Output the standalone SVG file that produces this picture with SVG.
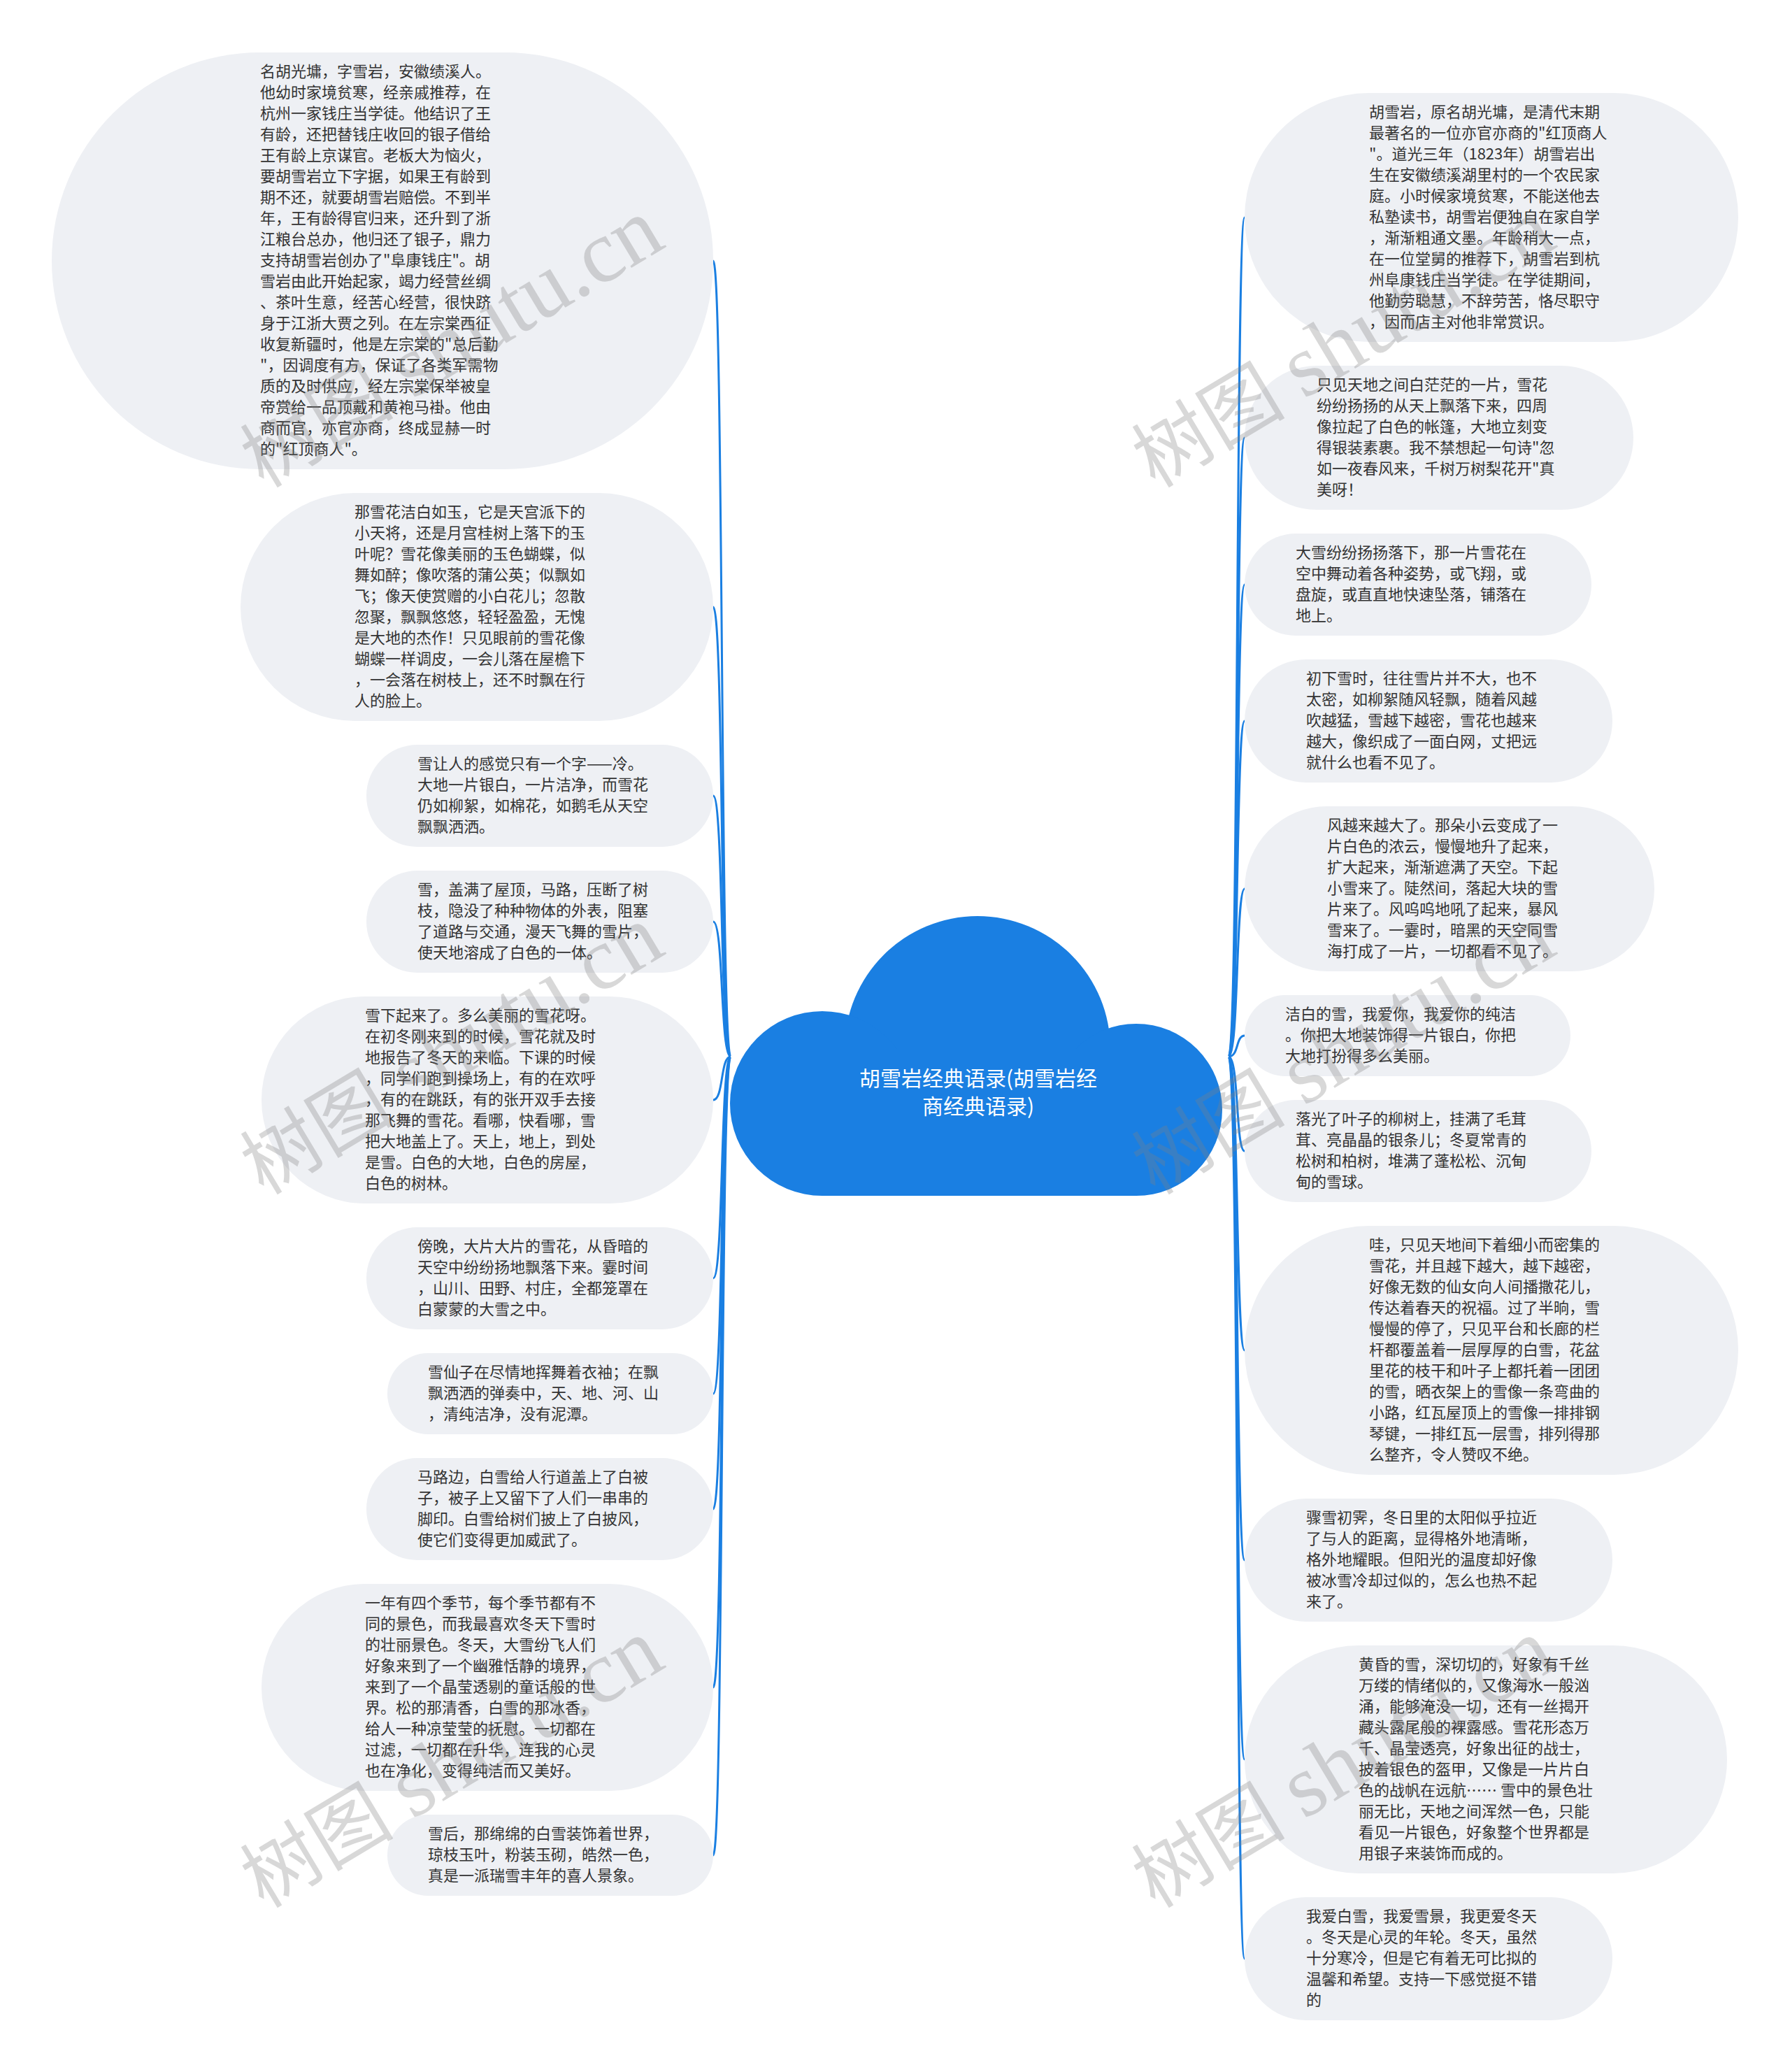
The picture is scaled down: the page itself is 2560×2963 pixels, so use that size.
<svg xmlns="http://www.w3.org/2000/svg" width="2560" height="2963" viewBox="0 0 2560 2963">
<style>
.node rect{fill:#eef0f4;}
.t{font-family:"Noto Sans CJK SC","Noto Sans",sans-serif;font-size:22px;fill:#333333;}
.c{font-family:"Noto Sans CJK SC","Noto Sans",sans-serif;font-size:30px;fill:#ffffff;text-anchor:middle;}
.edges path{fill:none;stroke:#1a7fe2;stroke-width:3;}
.wm{font-family:"Liberation Serif","Noto Sans CJK SC",serif;font-size:110px;fill:#808080;opacity:0.3;}
.wm tspan{font-size:127px;}
</style>
<rect x="0" y="0" width="2560" height="2963" fill="#ffffff"/>
<g class="edges">
<path d="M1045,1511 C1030,1511 1035,373 1020,373"/>
<path d="M1045,1511 C1030,1511 1035,868 1020,868"/>
<path d="M1045,1511 C1030,1511 1035,1138 1020,1138"/>
<path d="M1045,1511 C1030,1511 1035,1318 1020,1318"/>
<path d="M1045,1511 C1030,1511 1035,1573 1020,1573"/>
<path d="M1045,1511 C1030,1511 1035,1828 1020,1828"/>
<path d="M1045,1511 C1030,1511 1035,1993 1020,1993"/>
<path d="M1045,1511 C1030,1511 1035,2158 1020,2158"/>
<path d="M1045,1511 C1030,1511 1035,2413 1020,2413"/>
<path d="M1045,1511 C1030,1511 1035,2653 1020,2653"/>
<path d="M1757,1511 C1772,1511 1767,311 1780,311"/>
<path d="M1757,1511 C1772,1511 1767,626 1780,626"/>
<path d="M1757,1511 C1772,1511 1767,836 1780,836"/>
<path d="M1757,1511 C1772,1511 1767,1031 1780,1031"/>
<path d="M1757,1511 C1772,1511 1767,1271 1780,1271"/>
<path d="M1757,1511 C1772,1511 1767,1481 1780,1481"/>
<path d="M1757,1511 C1772,1511 1767,1646 1780,1646"/>
<path d="M1757,1511 C1772,1511 1767,1931 1780,1931"/>
<path d="M1757,1511 C1772,1511 1767,2231 1780,2231"/>
<path d="M1757,1511 C1772,1511 1767,2516 1780,2516"/>
<path d="M1757,1511 C1772,1511 1767,2801 1780,2801"/>
</g>
<g id="center">
<circle cx="1398" cy="1500" r="190" fill="#1a7fe2"/>
<circle cx="1176" cy="1578" r="132" fill="#1a7fe2"/>
<circle cx="1625" cy="1587" r="123" fill="#1a7fe2"/>
<rect x="1176" y="1500" width="449" height="210" fill="#1a7fe2"/>
<text class="c" x="1399" y="1553">胡雪岩经典语录(胡雪岩经</text>
<text class="c" x="1399" y="1593">商经典语录)</text>
</g>
<g id="L1" class="node">
<rect x="74" y="75" width="946" height="596" rx="298"/>
<text class="t" x="372" y="110">名胡光墉，字雪岩，安徽绩溪人。</text>
<text class="t" x="372" y="140">他幼时家境贫寒，经亲戚推荐，在</text>
<text class="t" x="372" y="170">杭州一家钱庄当学徒。他结识了王</text>
<text class="t" x="372" y="200">有龄，还把替钱庄收回的银子借给</text>
<text class="t" x="372" y="230">王有龄上京谋官。老板大为恼火，</text>
<text class="t" x="372" y="260">要胡雪岩立下字据，如果王有龄到</text>
<text class="t" x="372" y="290">期不还，就要胡雪岩赔偿。不到半</text>
<text class="t" x="372" y="320">年，王有龄得官归来，还升到了浙</text>
<text class="t" x="372" y="350">江粮台总办，他归还了银子，鼎力</text>
<text class="t" x="372" y="380">支持胡雪岩创办了"阜康钱庄"。胡</text>
<text class="t" x="372" y="410">雪岩由此开始起家，竭力经营丝绸</text>
<text class="t" x="372" y="440">、茶叶生意，经苦心经营，很快跻</text>
<text class="t" x="372" y="470">身于江浙大贾之列。在左宗棠西征</text>
<text class="t" x="372" y="500">收复新疆时，他是左宗棠的"总后勤</text>
<text class="t" x="372" y="530">"，因调度有方，保证了各类军需物</text>
<text class="t" x="372" y="560">质的及时供应，经左宗棠保举被皇</text>
<text class="t" x="372" y="590">帝赏给一品顶戴和黄袍马褂。他由</text>
<text class="t" x="372" y="620">商而官，亦官亦商，终成显赫一时</text>
<text class="t" x="372" y="650">的"红顶商人"。</text>
</g>
<g id="L2" class="node">
<rect x="344" y="705" width="676" height="326" rx="163"/>
<text class="t" x="507" y="740">那雪花洁白如玉，它是天宫派下的</text>
<text class="t" x="507" y="770">小天将，还是月宫桂树上落下的玉</text>
<text class="t" x="507" y="800">叶呢？雪花像美丽的玉色蝴蝶，似</text>
<text class="t" x="507" y="830">舞如醉；像吹落的蒲公英；似飘如</text>
<text class="t" x="507" y="860">飞；像天使赏赠的小白花儿；忽散</text>
<text class="t" x="507" y="890">忽聚，飘飘悠悠，轻轻盈盈，无愧</text>
<text class="t" x="507" y="920">是大地的杰作！只见眼前的雪花像</text>
<text class="t" x="507" y="950">蝴蝶一样调皮，一会儿落在屋檐下</text>
<text class="t" x="507" y="980">，一会落在树枝上，还不时飘在行</text>
<text class="t" x="507" y="1010">人的脸上。</text>
</g>
<g id="L3" class="node">
<rect x="524" y="1065" width="496" height="146" rx="73"/>
<text class="t" x="597" y="1100">雪让人的感觉只有一个字——冷。</text>
<text class="t" x="597" y="1130">大地一片银白，一片洁净，而雪花</text>
<text class="t" x="597" y="1160">仍如柳絮，如棉花，如鹅毛从天空</text>
<text class="t" x="597" y="1190">飘飘洒洒。</text>
</g>
<g id="L4" class="node">
<rect x="524" y="1245" width="496" height="146" rx="73"/>
<text class="t" x="597" y="1280">雪，盖满了屋顶，马路，压断了树</text>
<text class="t" x="597" y="1310">枝，隐没了种种物体的外表，阻塞</text>
<text class="t" x="597" y="1340">了道路与交通，漫天飞舞的雪片，</text>
<text class="t" x="597" y="1370">使天地溶成了白色的一体。</text>
</g>
<g id="L5" class="node">
<rect x="374" y="1425" width="646" height="296" rx="148"/>
<text class="t" x="522" y="1460">雪下起来了。多么美丽的雪花呀。</text>
<text class="t" x="522" y="1490">在初冬刚来到的时候，雪花就及时</text>
<text class="t" x="522" y="1520">地报告了冬天的来临。下课的时候</text>
<text class="t" x="522" y="1550">，同学们跑到操场上，有的在欢呼</text>
<text class="t" x="522" y="1580">，有的在跳跃，有的张开双手去接</text>
<text class="t" x="522" y="1610">那飞舞的雪花。看哪，快看哪，雪</text>
<text class="t" x="522" y="1640">把大地盖上了。天上，地上，到处</text>
<text class="t" x="522" y="1670">是雪。白色的大地，白色的房屋，</text>
<text class="t" x="522" y="1700">白色的树林。</text>
</g>
<g id="L6" class="node">
<rect x="524" y="1755" width="496" height="146" rx="73"/>
<text class="t" x="597" y="1790">傍晚，大片大片的雪花，从昏暗的</text>
<text class="t" x="597" y="1820">天空中纷纷扬地飘落下来。霎时间</text>
<text class="t" x="597" y="1850">，山川、田野、村庄，全都笼罩在</text>
<text class="t" x="597" y="1880">白蒙蒙的大雪之中。</text>
</g>
<g id="L7" class="node">
<rect x="554" y="1935" width="466" height="116" rx="58"/>
<text class="t" x="612" y="1970">雪仙子在尽情地挥舞着衣袖；在飘</text>
<text class="t" x="612" y="2000">飘洒洒的弹奏中，天、地、河、山</text>
<text class="t" x="612" y="2030">，清纯洁净，没有泥潭。</text>
</g>
<g id="L8" class="node">
<rect x="524" y="2085" width="496" height="146" rx="73"/>
<text class="t" x="597" y="2120">马路边，白雪给人行道盖上了白被</text>
<text class="t" x="597" y="2150">子，被子上又留下了人们一串串的</text>
<text class="t" x="597" y="2180">脚印。白雪给树们披上了白披风，</text>
<text class="t" x="597" y="2210">使它们变得更加威武了。</text>
</g>
<g id="L9" class="node">
<rect x="374" y="2265" width="646" height="296" rx="148"/>
<text class="t" x="522" y="2300">一年有四个季节，每个季节都有不</text>
<text class="t" x="522" y="2330">同的景色，而我最喜欢冬天下雪时</text>
<text class="t" x="522" y="2360">的壮丽景色。冬天，大雪纷飞人们</text>
<text class="t" x="522" y="2390">好象来到了一个幽雅恬静的境界，</text>
<text class="t" x="522" y="2420">来到了一个晶莹透剔的童话般的世</text>
<text class="t" x="522" y="2450">界。松的那清香，白雪的那冰香，</text>
<text class="t" x="522" y="2480">给人一种凉莹莹的抚慰。一切都在</text>
<text class="t" x="522" y="2510">过滤，一切都在升华，连我的心灵</text>
<text class="t" x="522" y="2540">也在净化，变得纯洁而又美好。</text>
</g>
<g id="L10" class="node">
<rect x="554" y="2595" width="466" height="116" rx="58"/>
<text class="t" x="612" y="2630">雪后，那绵绵的白雪装饰着世界，</text>
<text class="t" x="612" y="2660">琼枝玉叶，粉装玉砌，皓然一色，</text>
<text class="t" x="612" y="2690">真是一派瑞雪丰年的喜人景象。</text>
</g>
<g id="R1" class="node">
<rect x="1780" y="133" width="706" height="356" rx="178"/>
<text class="t" x="1958" y="168">胡雪岩，原名胡光墉，是清代末期</text>
<text class="t" x="1958" y="198">最著名的一位亦官亦商的"红顶商人</text>
<text class="t" x="1958" y="228">"。道光三年（1823年）胡雪岩出</text>
<text class="t" x="1958" y="258">生在安徽绩溪湖里村的一个农民家</text>
<text class="t" x="1958" y="288">庭。小时候家境贫寒，不能送他去</text>
<text class="t" x="1958" y="318">私塾读书，胡雪岩便独自在家自学</text>
<text class="t" x="1958" y="348">，渐渐粗通文墨。年龄稍大一点，</text>
<text class="t" x="1958" y="378">在一位堂舅的推荐下，胡雪岩到杭</text>
<text class="t" x="1958" y="408">州阜康钱庄当学徒。在学徒期间，</text>
<text class="t" x="1958" y="438">他勤劳聪慧，不辞劳苦，恪尽职守</text>
<text class="t" x="1958" y="468">，因而店主对他非常赏识。</text>
</g>
<g id="R2" class="node">
<rect x="1780" y="523" width="556" height="206" rx="103"/>
<text class="t" x="1883" y="558">只见天地之间白茫茫的一片，雪花</text>
<text class="t" x="1883" y="588">纷纷扬扬的从天上飘落下来，四周</text>
<text class="t" x="1883" y="618">像拉起了白色的帐篷，大地立刻变</text>
<text class="t" x="1883" y="648">得银装素裹。我不禁想起一句诗"忽</text>
<text class="t" x="1883" y="678">如一夜春风来，千树万树梨花开"真</text>
<text class="t" x="1883" y="708">美呀！</text>
</g>
<g id="R3" class="node">
<rect x="1780" y="763" width="496" height="146" rx="73"/>
<text class="t" x="1853" y="798">大雪纷纷扬扬落下，那一片雪花在</text>
<text class="t" x="1853" y="828">空中舞动着各种姿势，或飞翔，或</text>
<text class="t" x="1853" y="858">盘旋，或直直地快速坠落，铺落在</text>
<text class="t" x="1853" y="888">地上。</text>
</g>
<g id="R4" class="node">
<rect x="1780" y="943" width="526" height="176" rx="88"/>
<text class="t" x="1868" y="978">初下雪时，往往雪片并不大，也不</text>
<text class="t" x="1868" y="1008">太密，如柳絮随风轻飘，随着风越</text>
<text class="t" x="1868" y="1038">吹越猛，雪越下越密，雪花也越来</text>
<text class="t" x="1868" y="1068">越大，像织成了一面白网，丈把远</text>
<text class="t" x="1868" y="1098">就什么也看不见了。</text>
</g>
<g id="R5" class="node">
<rect x="1780" y="1153" width="586" height="236" rx="118"/>
<text class="t" x="1898" y="1188">风越来越大了。那朵小云变成了一</text>
<text class="t" x="1898" y="1218">片白色的浓云，慢慢地升了起来，</text>
<text class="t" x="1898" y="1248">扩大起来，渐渐遮满了天空。下起</text>
<text class="t" x="1898" y="1278">小雪来了。陡然间，落起大块的雪</text>
<text class="t" x="1898" y="1308">片来了。风呜呜地吼了起来，暴风</text>
<text class="t" x="1898" y="1338">雪来了。一霎时，暗黑的天空同雪</text>
<text class="t" x="1898" y="1368">海打成了一片，一切都看不见了。</text>
</g>
<g id="R6" class="node">
<rect x="1780" y="1423" width="466" height="116" rx="58"/>
<text class="t" x="1838" y="1458">洁白的雪，我爱你，我爱你的纯洁</text>
<text class="t" x="1838" y="1488">。你把大地装饰得一片银白，你把</text>
<text class="t" x="1838" y="1518">大地打扮得多么美丽。</text>
</g>
<g id="R7" class="node">
<rect x="1780" y="1573" width="496" height="146" rx="73"/>
<text class="t" x="1853" y="1608">落光了叶子的柳树上，挂满了毛茸</text>
<text class="t" x="1853" y="1638">茸、亮晶晶的银条儿；冬夏常青的</text>
<text class="t" x="1853" y="1668">松树和柏树，堆满了蓬松松、沉甸</text>
<text class="t" x="1853" y="1698">甸的雪球。</text>
</g>
<g id="R8" class="node">
<rect x="1780" y="1753" width="706" height="356" rx="178"/>
<text class="t" x="1958" y="1788">哇，只见天地间下着细小而密集的</text>
<text class="t" x="1958" y="1818">雪花，并且越下越大，越下越密，</text>
<text class="t" x="1958" y="1848">好像无数的仙女向人间播撒花儿，</text>
<text class="t" x="1958" y="1878">传达着春天的祝福。过了半晌，雪</text>
<text class="t" x="1958" y="1908">慢慢的停了，只见平台和长廊的栏</text>
<text class="t" x="1958" y="1938">杆都覆盖着一层厚厚的白雪，花盆</text>
<text class="t" x="1958" y="1968">里花的枝干和叶子上都托着一团团</text>
<text class="t" x="1958" y="1998">的雪，晒衣架上的雪像一条弯曲的</text>
<text class="t" x="1958" y="2028">小路，红瓦屋顶上的雪像一排排钢</text>
<text class="t" x="1958" y="2058">琴键，一排红瓦一层雪，排列得那</text>
<text class="t" x="1958" y="2088">么整齐，令人赞叹不绝。</text>
</g>
<g id="R9" class="node">
<rect x="1780" y="2143" width="526" height="176" rx="88"/>
<text class="t" x="1868" y="2178">骤雪初霁，冬日里的太阳似乎拉近</text>
<text class="t" x="1868" y="2208">了与人的距离，显得格外地清晰，</text>
<text class="t" x="1868" y="2238">格外地耀眼。但阳光的温度却好像</text>
<text class="t" x="1868" y="2268">被冰雪冷却过似的，怎么也热不起</text>
<text class="t" x="1868" y="2298">来了。</text>
</g>
<g id="R10" class="node">
<rect x="1780" y="2353" width="690" height="326" rx="163"/>
<text class="t" x="1943" y="2388">黄昏的雪，深切切的，好象有千丝</text>
<text class="t" x="1943" y="2418">万缕的情绪似的，又像海水一般汹</text>
<text class="t" x="1943" y="2448">涌，能够淹没一切，还有一丝揭开</text>
<text class="t" x="1943" y="2478">藏头露尾般的裸露感。雪花形态万</text>
<text class="t" x="1943" y="2508">千、晶莹透亮，好象出征的战士，</text>
<text class="t" x="1943" y="2538">披着银色的盔甲，又像是一片片白</text>
<text class="t" x="1943" y="2568">色的战帆在远航…… 雪中的景色壮</text>
<text class="t" x="1943" y="2598">丽无比，天地之间浑然一色，只能</text>
<text class="t" x="1943" y="2628">看见一片银色，好象整个世界都是</text>
<text class="t" x="1943" y="2658">用银子来装饰而成的。</text>
</g>
<g id="R11" class="node">
<rect x="1780" y="2713" width="526" height="176" rx="88"/>
<text class="t" x="1868" y="2748">我爱白雪，我爱雪景，我更爱冬天</text>
<text class="t" x="1868" y="2778">。冬天是心灵的年轮。冬天，虽然</text>
<text class="t" x="1868" y="2808">十分寒冷，但是它有着无可比拟的</text>
<text class="t" x="1868" y="2838">温馨和希望。支持一下感觉挺不错</text>
<text class="t" x="1868" y="2868">的</text>
</g>
<g id="watermarks">
<text class="wm" transform="translate(377,699) rotate(-31)">树图 <tspan>shutu.cn</tspan></text>
<text class="wm" transform="translate(377,1710) rotate(-31)">树图 <tspan>shutu.cn</tspan></text>
<text class="wm" transform="translate(377,2730) rotate(-31)">树图 <tspan>shutu.cn</tspan></text>
<text class="wm" transform="translate(1652,699) rotate(-31)">树图 <tspan>shutu.cn</tspan></text>
<text class="wm" transform="translate(1652,1710) rotate(-31)">树图 <tspan>shutu.cn</tspan></text>
<text class="wm" transform="translate(1652,2730) rotate(-31)">树图 <tspan>shutu.cn</tspan></text>
</g>
</svg>
